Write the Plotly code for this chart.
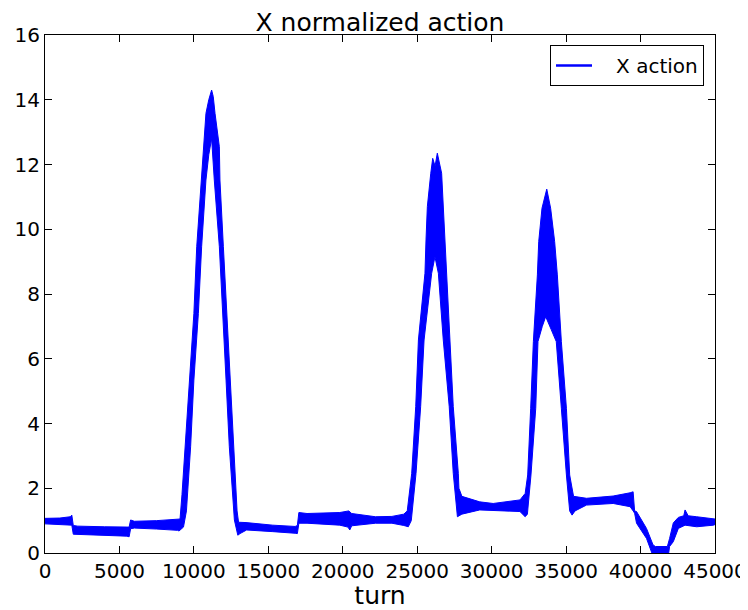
import plotly.graph_objects as go

# Upper envelope of the oscillating "X action" signal (turn, value)
turn_upper = [0, 1000, 1700, 1800, 1900, 2200, 4000, 5500, 5650, 5750, 6000, 7500, 8900, 9070,
              9200, 9400, 9690, 10000, 10190, 10520, 10680, 10810, 11000, 11150, 11190, 11300,
              11420, 11710, 11750, 11980, 12200, 12430, 12650, 12900, 13000, 13500, 15300, 16800,
              16950, 17050, 17600, 19800, 20400, 20600, 22200, 23300, 24100, 24330, 24630, 24900,
              25080, 25520, 25590, 25680, 25910, 26040, 26200, 26350, 26640, 26750, 26870, 26980,
              27200, 27420, 27760, 27800, 28000, 29200, 30100, 31900, 32250, 32420, 32620, 32800,
              33070, 33160, 33380, 33700, 33960, 34230, 34410, 34680, 35020, 35240, 35360, 35500,
              36370, 38160, 39300, 39500, 39600, 39730, 40400, 40840, 41000, 41800, 41950, 42200,
              42540, 42900, 42990, 43200, 43770, 44900, 45000]
action_upper = [1.07, 1.08, 1.12, 1.17, 0.85, 0.83, 0.81, 0.78, 0.80, 1.02, 0.98, 1.00, 1.05, 1.05,
                1.8, 3.28, 5.34, 7.4, 9.46, 11.52, 12.55, 13.58, 14.0, 14.2, 14.3, 14.1,
                13.58, 12.55, 11.52, 9.46, 7.4, 5.34, 3.28, 1.3, 0.95, 0.94, 0.86, 0.82,
                0.85, 1.25, 1.22, 1.25, 1.30, 1.22, 1.12, 1.13, 1.2, 1.3, 2.46, 4.52,
                6.58, 8.64, 9.67, 10.7, 11.73, 12.19, 11.95, 12.35, 11.73, 10.7, 9.67, 8.64,
                6.58, 4.52, 2.46, 2.0, 1.75, 1.58, 1.53, 1.64, 1.84, 2.41, 4.47, 6.53,
                8.59, 9.62, 10.65, 11.24, 10.65, 9.62, 8.59, 6.53, 4.47, 2.41, 2.1, 1.75,
                1.69, 1.76, 1.86, 1.89, 1.3, 1.28, 0.76, 0.25, 0.2, 0.2, 0.45, 0.93,
                1.1, 1.15, 1.33, 1.15, 1.12, 1.07, 1.05]

# Lower envelope of the signal (turn, value)
turn_lower = [0, 1000, 1800, 1900, 2200, 4000, 5500, 5650, 5750, 6000, 7500, 8900, 9000, 9300,
              9500, 9780, 10000, 10300, 10520, 10810, 11000, 11190, 11370, 11710, 11940, 12160,
              12380, 12720, 12950, 13100, 13540, 15300, 16800, 16950, 17050, 17600, 19800, 20350,
              20470, 20600, 22200, 23300, 24100, 24400, 24600, 24920, 25230, 25460, 25970, 26190,
              26420, 26750, 27150, 27420, 27700, 28000, 29200, 30100, 31900, 32250, 32400, 32640,
              32960, 33110, 33400, 33630, 34000, 34340, 34680, 35020, 35240, 35400, 35600, 36370,
              38160, 39300, 39500, 39600, 39730, 40400, 40840, 41860, 41950, 42200, 42540, 42990,
              43770, 44900, 45000]
action_lower = [0.90, 0.88, 0.86, 0.58, 0.57, 0.55, 0.52, 0.50, 0.75, 0.77, 0.74, 0.70, 0.68, 0.8,
                1.3, 3.28, 5.34, 7.4, 9.46, 11.52, 12.3, 12.8, 11.52, 9.46, 7.4, 5.34,
                3.28, 1.02, 0.55, 0.6, 0.71, 0.66, 0.61, 0.60, 0.92, 0.92, 0.86, 0.80,
                0.71, 0.84, 0.92, 0.92, 0.85, 0.81, 1.0, 2.46, 4.52, 6.58, 8.64, 9.15,
                8.64, 6.58, 4.52, 2.46, 1.12, 1.2, 1.33, 1.31, 1.28, 1.12, 1.2, 2.41,
                4.47, 6.53, 7.0, 7.3, 6.9, 6.53, 4.47, 2.41, 1.3, 1.17, 1.3, 1.48,
                1.53, 1.43, 1.30, 1.23, 0.92, 0.45, -0.1, -0.1, 0.2, 0.35, 0.76, 0.86,
                0.81, 0.86, 0.88]

x_ticks = [0, 5000, 10000, 15000, 20000, 25000, 30000, 35000, 40000, 45000]
y_ticks = [0, 2, 4, 6, 8, 10, 12, 14, 16]

BLUE = "#0000ff"
FONT = "DejaVu Sans"

fig = go.Figure()
fig.add_trace(go.Scatter(
    x=turn_upper + turn_lower[::-1],
    y=action_upper + action_lower[::-1],
    mode="lines", fill="toself", fillcolor=BLUE,
    line=dict(color=BLUE, width=1),
    showlegend=False, hoverinfo="skip",
))
fig.add_trace(go.Scatter(
    x=[None], y=[None], mode="lines", name="\u00a0\u00a0\u00a0X action",
    line=dict(color=BLUE, width=2.5),
))

axis_common = dict(
    showline=True, linecolor="black", linewidth=1, mirror="ticks",
    ticks="inside", ticklen=7, tickwidth=1, tickcolor="black",
    showgrid=False, zeroline=False, automargin=False,
    tickfont=dict(family=FONT, size=20, color="black"),
)

# page has an 8px body margin, so the figure is sized/offset accordingly
W, H = 740, 602
fig.update_layout(
    template="none",
    width=W, height=H,
    margin=dict(l=37, r=33, t=27, b=57),
    paper_bgcolor="white", plot_bgcolor="white",
    title=dict(text="X normalized action", x=0.5, xref="paper", xanchor="center",
               y=1 - 14.5 / H, yref="container", yanchor="middle",
               font=dict(family=FONT, size=25, color="black")),
    xaxis=dict(range=[0, 45000], tickvals=x_ticks, ticktext=[str(v) for v in x_ticks],
               title=dict(text="turn", standoff=3, font=dict(family=FONT, size=25, color="black")),
               **axis_common),
    yaxis=dict(range=[0, 16], tickvals=y_ticks, ticktext=[str(v) for v in y_ticks],
               **axis_common),
    legend=dict(x=(696 - 37) / 670, y=(545 - 37) / 518, xanchor="right", yanchor="top",
                bordercolor="black", borderwidth=1, bgcolor="white", itemwidth=36,
                font=dict(family=FONT, size=20, color="black")),
    showlegend=True,
)

fig.write_html("out.html")
